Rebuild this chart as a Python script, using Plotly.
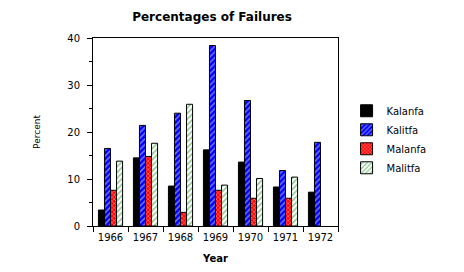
import plotly.graph_objects as go

years = ["1966", "1967", "1968", "1969", "1970", "1971", "1972"]
kalanfa = [3.4, 14.5, 8.5, 16.2, 13.6, 8.3, 7.2]
kalitfa = [16.5, 21.4, 24.0, 38.4, 26.7, 11.8, 17.8]
malanfa = [7.6, 14.8, 2.9, 7.6, 5.9, 5.9, None]
malitfa = [13.8, 17.6, 25.9, 8.7, 10.1, 10.4, None]

FONT = "DejaVu Sans"
line = dict(color="black", width=1)

fig = go.Figure()
fig.add_bar(name="Kalanfa", x=years, y=kalanfa,
            marker=dict(color="black", line=line))
fig.add_bar(name="Kalitfa", x=years, y=kalitfa,
            marker=dict(color="#0000ff", line=line,
                        pattern=dict(shape="/", bgcolor="#0000ff", fgcolor="white",
                                     size=4, solidity=0.35)))
fig.add_bar(name="Malanfa", x=years, y=malanfa,
            marker=dict(color="#ff0000", line=line,
                        pattern=dict(shape="x", bgcolor="#ff0000", fgcolor="white",
                                     size=3, solidity=0.4)))
fig.add_bar(name="Malitfa", x=years, y=malitfa,
            marker=dict(color="white", line=line,
                        pattern=dict(shape="/", bgcolor="white", fgcolor="#008000",
                                     size=4, solidity=0.35)))

fig.update_layout(
    width=464, height=272,
    margin=dict(l=93, r=126, t=38, b=46),
    paper_bgcolor="white", plot_bgcolor="white",
    barmode="group", bargap=0.31, bargroupgap=0,
    font=dict(family=FONT, size=10, color="black"),
    title=dict(text="<b>Percentages of Failures</b>", font=dict(size=12, family=FONT),
               x=0.457, xanchor="center", y=1 - 17 / 272, yanchor="middle"),
    legend=dict(x=1.035, y=0.69, xanchor="left", yanchor="top",
                font=dict(size=10, family=FONT), tracegroupgap=0,
                bgcolor="rgba(0,0,0,0)"),
    showlegend=True,
)
fig.update_xaxes(
    type="category", showline=True, linecolor="black", linewidth=1, mirror=True,
    ticks="outside", tickson="boundaries", ticklen=5, tickcolor="black",
    showgrid=False, zeroline=False, tickfont=dict(size=10), ticklabelstandoff=2,
    automargin=False,
    title=dict(text="<b>Year</b>", font=dict(size=10, family=FONT), standoff=12),
)
fig.update_yaxes(
    range=[0, 40], tickvals=[0, 10, 20, 30, 40], showline=True, linecolor="black",
    linewidth=1, mirror=True, ticks="outside", ticklen=5, tickcolor="black",
    minor=dict(dtick=5, ticks="outside", ticklen=3, tickcolor="black", showgrid=False),
    showgrid=False, zeroline=False, ticklabelstandoff=5, tickfont=dict(size=10),
    automargin=False,
    title=dict(text="Percent", font=dict(size=9, family=FONT), standoff=25),
)

fig.write_html("out.html")
